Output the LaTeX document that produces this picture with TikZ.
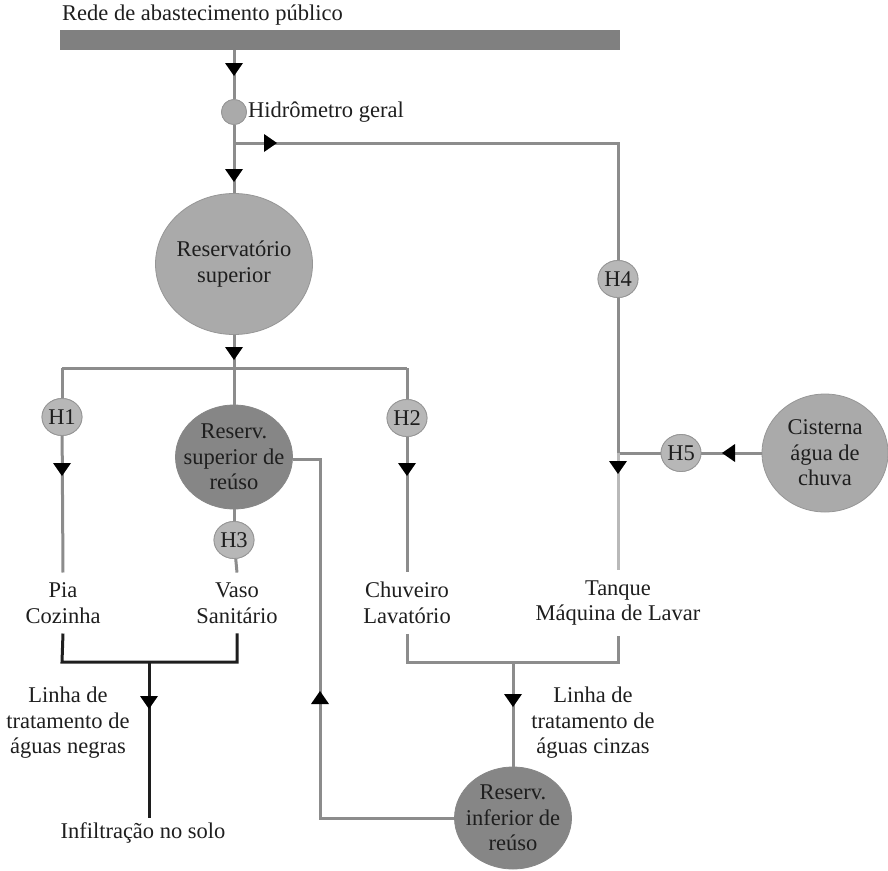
\documentclass[tikz,border=0pt]{standalone}
\usepackage{fontspec}
\setmainfont{Liberation Serif}
\usetikzlibrary{shapes.geometric}
\definecolor{pipe}{RGB}{140,140,140}
\definecolor{pipelight}{RGB}{185,185,185}
\definecolor{fillA}{RGB}{170,170,170}
\definecolor{fillB}{RGB}{134,134,134}
\definecolor{barcol}{RGB}{128,128,128}
\definecolor{edgecol}{RGB}{150,150,150}
\definecolor{txt}{RGB}{30,30,30}
\begin{document}
\begin{tikzpicture}[x=1pt,y=-1pt,
  every node/.style={font=\fontsize{22.5}{25.5}\selectfont, text=txt},
  pipeline/.style={draw=pipe, line width=3pt},
  lightpipe/.style={draw=pipelight, line width=3pt},
  blackpipe/.style={draw=txt, line width=3pt},
  tank/.style={ellipse, draw=edgecol, line width=0.8pt, fill=fillA, inner sep=-20pt, align=center},
  darktank/.style={ellipse, draw=fillB, line width=0.8pt, fill=fillB, inner sep=-20pt, align=center},
  meter/.style={ellipse, draw=edgecol, line width=0.8pt, fill=fillA!85!white, inner sep=-4pt, minimum width=40pt, minimum height=37pt},
  label/.style={align=center, inner sep=10pt},
  tridown/.pic={\fill[black] (-9,-6) -- (9,-6) -- (0,7) -- cycle;}
]
\useasboundingbox (0,0) rectangle (888,870);

% title and bar
\node[anchor=west, inner sep=0pt] (title) at (62,15) {Rede de abastecimento público};
\node[fill=barcol, draw=none, minimum width=560pt, minimum height=20pt, inner sep=0pt, anchor=north west] (bar) at (60,30) {};

% nodes
\node[ellipse, fill=fillA, draw=edgecol, line width=0.8pt, minimum width=25pt, minimum height=25pt, inner sep=0pt] (hid) at (234,112) {};
\node[anchor=west, inner sep=0pt] (hidlab) at (248,112) {Hidrômetro geral};
\node[tank, minimum width=157pt, minimum height=141pt] (res) at (234,264) {Reservatório\\superior};
\node[darktank, minimum width=117pt, minimum height=104pt] (rsr) at (234,457) {Reserv.\\superior de\\reúso};
\node[darktank, minimum width=117pt, minimum height=102pt] (rir) at (513,818) {Reserv.\\inferior de\\reúso};
\node[tank, minimum width=126pt, minimum height=118pt] (cist) at (825,453) {Cisterna\\água de\\chuva};

\node[meter] (h1) at (62,417) {H1};
\node[meter] (h2) at (407,418) {H2};
\node[meter] (h3) at (234,540) {H3};
\node[meter] (h4) at (618,279) {H4};
\node[meter] (h5) at (681,453) {H5};

\node[label] (pia) at (63,603) {Pia\\Cozinha};
\node[label] (vaso) at (237,603) {Vaso\\Sanitário};
\node[label] (chuv) at (407,603) {Chuveiro\\Lavatório};
\node[label] (tanq) at (618,603) {Tanque\\Máquina de Lavar};
\node[align=center] (negras) at (68,723) {Linha de\\tratamento de\\águas negras};
\node[align=center] (cinzas) at (593,723) {Linha de\\tratamento de\\águas cinzas};
\node[anchor=north, inner sep=3pt] (infil) at (143,819) {Infiltração no solo};

% coordinates
\coordinate (j1) at (234,143);
\coordinate (c1) at (618,143);
\coordinate (j5) at (618,453);
\coordinate (j2) at (234,368);
\coordinate (j2l) at (62,368);
\coordinate (j2r) at (407,368);
\coordinate (r1) at (320,459);
\coordinate (r2) at (320,818);
\coordinate (bl) at (62,662);
\coordinate (br) at (237,662);
\coordinate (bm) at (149,662);
\coordinate (bend) at (149,818);
\coordinate (gl) at (407,662);
\coordinate (gr) at (618,662);
\coordinate (gm) at (513,662);

% pipes
\draw[pipeline] (hid |- bar.south) -- (hid);
\draw[pipeline] (hid) -- (res);
\draw[pipeline] (j1) -- (c1) -- (h4);
\draw[pipeline] (h4) -- (j5);
\draw[pipeline] (cist) -- (h5);
\draw[pipeline] (h5) -- (j5);
\draw[lightpipe] (j5) -- (tanq.north);
\draw[pipeline] (res) -- (j2);
\draw[pipeline] (j2l) -- (j2r);
\draw[pipeline] (j2l) -- (h1);
\draw[pipeline] (h1) -- (pia.north);
\draw[pipeline] (j2r) -- (h2);
\draw[pipeline] (h2) -- (chuv.north);
\draw[pipeline] (j2) -- (rsr);
\draw[pipeline] (rsr) -- (h3);
\draw[pipeline] (h3) -- (vaso.north);
\draw[pipeline] (rsr.east |- r1) -- (r1) -- (r2) -- (rir.west |- r2);
\draw[blackpipe] (pia.south) -- (bl) -- (br) -- (vaso.south);
\draw[blackpipe] (bm) -- (bend);
\draw[pipeline] (chuv.south) -- (gl) -- (gr) -- (tanq.south);
\draw[pipeline] (gm) -- (rir);

% redraw nodes over pipes
\node[ellipse, fill=fillA, draw=edgecol, line width=0.8pt, minimum width=25pt, minimum height=25pt, inner sep=0pt] at (hid) {};
\node[meter] at (h1) {H1};
\node[meter] at (h2) {H2};
\node[meter] at (h3) {H3};
\node[meter] at (h4) {H4};
\node[meter] at (h5) {H5};

% arrowheads
\pic at (234,69) {tridown};
\pic at (234,175) {tridown};
\pic at (234,353) {tridown};
\pic at (62,469) {tridown};
\pic at (407,469) {tridown};
\pic at (618,467) {tridown};
\pic at (149,702) {tridown};
\pic at (513,700) {tridown};
\pic[rotate=90] at (270,143) {tridown};
\pic[rotate=-90] at (729,453) {tridown};
\pic[rotate=180] at (320,698) {tridown};
\end{tikzpicture}
\end{document}
